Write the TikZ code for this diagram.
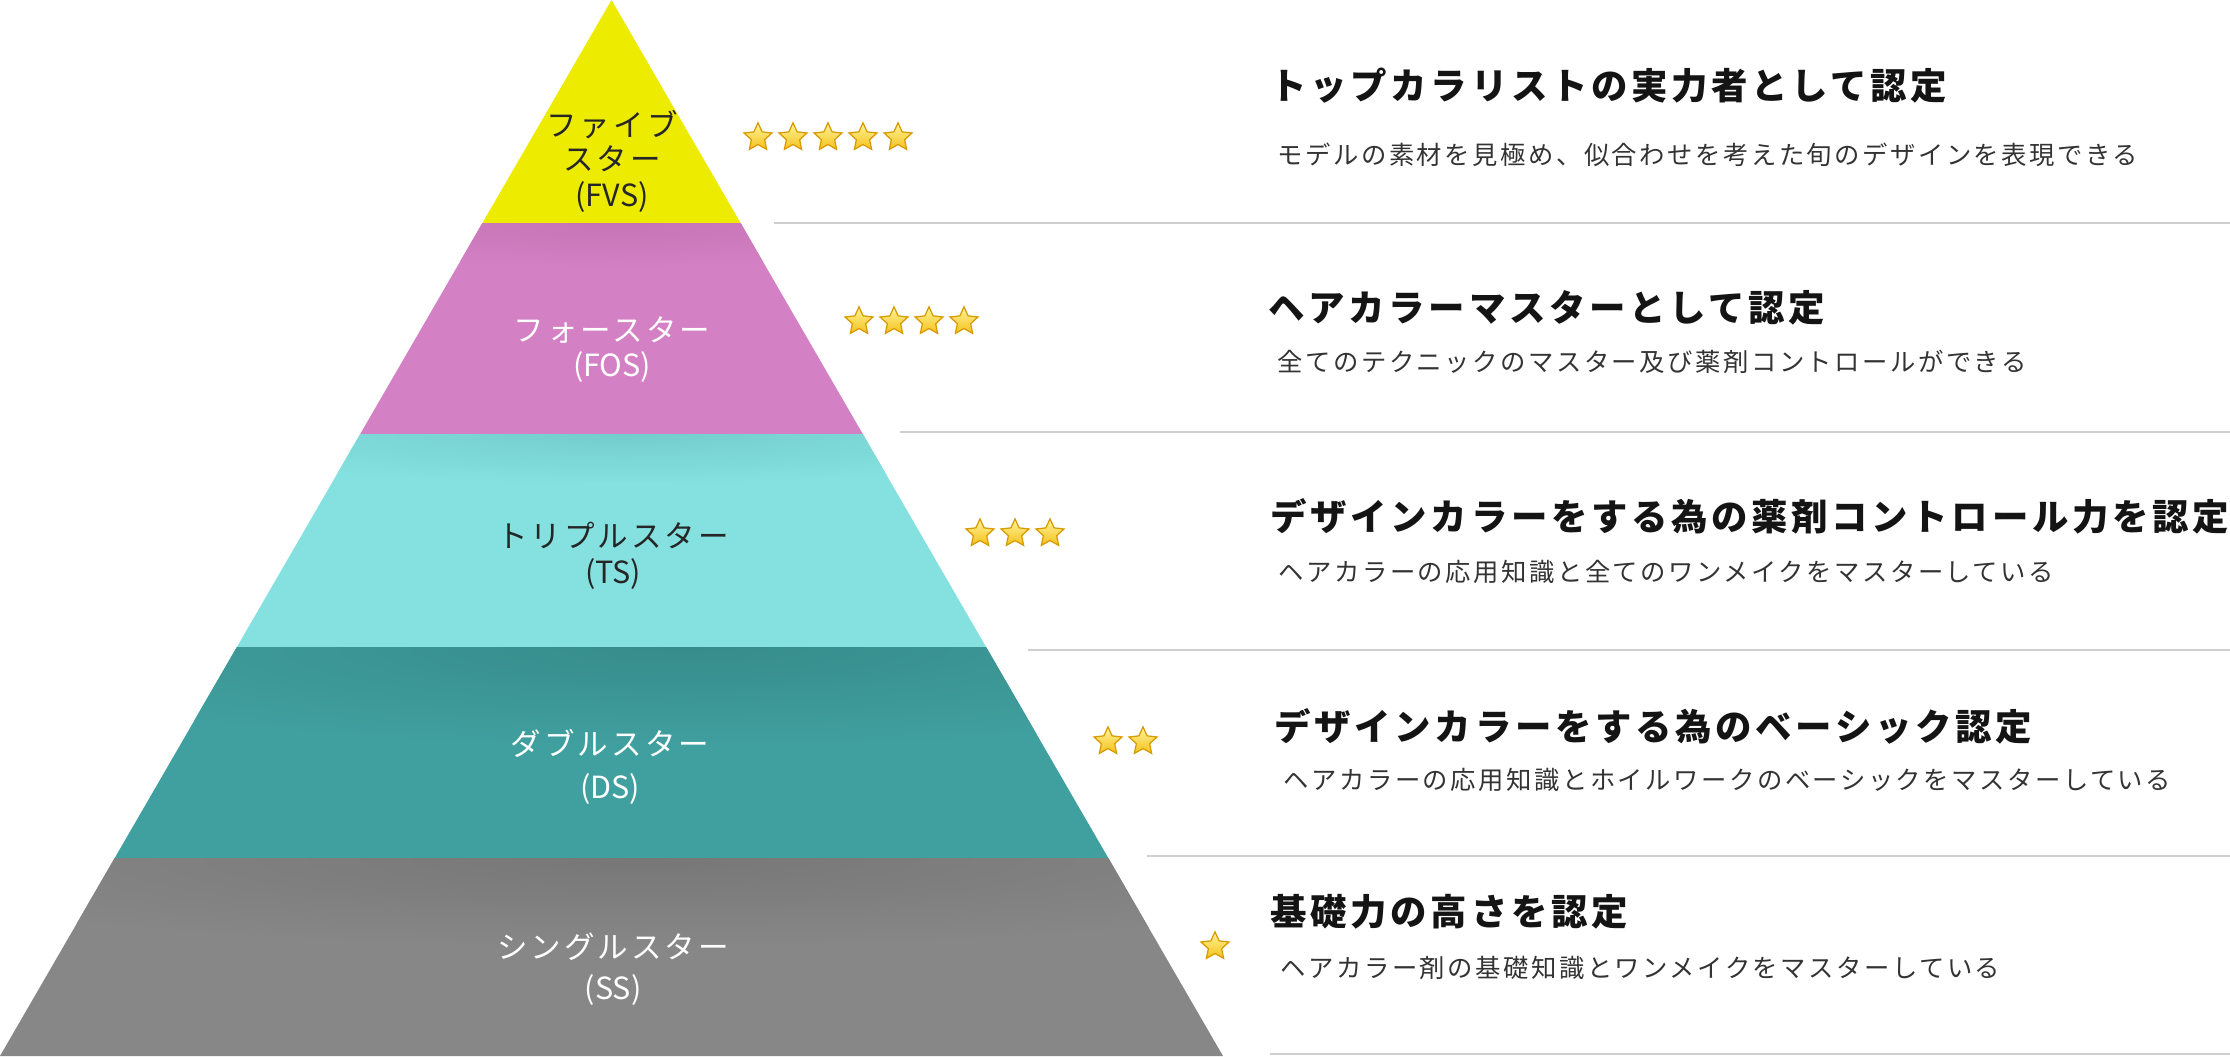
\documentclass[tikz,border=0pt]{standalone}
\usepackage{fontspec}
\setmainfont{Noto Sans CJK JP}
\newfontfamily\jp[LetterSpace=10]{Noto Sans CJK JP}
\newfontfamily\jplat{Noto Sans CJK JP}
\usetikzlibrary{shapes.geometric}
\definecolor{fvscol}{HTML}{EDEB00}
\definecolor{foscol}{HTML}{D480C4}
\definecolor{foshade}{HTML}{C674B6}
\definecolor{tscol}{HTML}{84E1E0}
\definecolor{tsshade}{HTML}{73CDCC}
\definecolor{dscol}{HTML}{40A09F}
\definecolor{dsshade}{HTML}{368C8B}
\definecolor{sscol}{HTML}{878787}
\definecolor{ssshade}{HTML}{777777}
\definecolor{rulecol}{HTML}{CFCFCF}
\definecolor{starlight}{HTML}{FFF39A}
\definecolor{stargold}{HTML}{F4C21B}
\definecolor{staredge}{HTML}{D99A00}
\tikzset{
  lvl/.style={font=\jp\fontsize{8.68}{10}\selectfont, inner sep=0pt},
  abbr/.style={font=\jplat\fontsize{8.68}{10}\selectfont, inner sep=0pt},
  head/.style={anchor=west, font=\jp\bfseries\fontsize{10.36}{12}\selectfont, text=black!92, inner sep=0pt},
  desc/.style={anchor=west, font=\jp\fontsize{7.2}{9}\selectfont, text=black!80, inner sep=0pt},
  sep/.style={draw=rulecol, line width=0.6pt},
  goldstar/.style={star, star points=5, star point ratio=2.1, minimum size=0.294cm, inner sep=0pt,
    draw=staredge, line width=0.35pt, top color=starlight, bottom color=stargold}
}

\begin{document}
\begin{tikzpicture}[x=0.01cm,y=-0.01cm]
\useasboundingbox (0,0) rectangle (2230,1056);
\fill[fvscol] (611.5,0) -- (740.6,223) -- (482.4,223) -- cycle;
\fill[foscol] (482.4,223) -- (740.6,223) -- (862.8,434) -- (360.2,434) -- cycle;
\fill[tscol] (360.2,434) -- (862.8,434) -- (986.1,647) -- (236.9,647) -- cycle;
\fill[dscol] (236.9,647) -- (986.1,647) -- (1108.3,858) -- (114.7,858) -- cycle;
\fill[sscol] (114.7,858) -- (1108.3,858) -- (1223,1056) -- (0,1056) -- cycle;
\begin{scope}
\clip (482.4,223) -- (740.6,223) -- (862.8,434) -- (360.2,434) -- cycle;
\shade[inner color=foshade, outer color=foscol] (615,223) ellipse (340 and 44);
\end{scope}
\begin{scope}
\clip (360.2,434) -- (862.8,434) -- (986.1,647) -- (236.9,647) -- cycle;
\shade[inner color=tsshade, outer color=tscol] (625,434) ellipse (460 and 50);
\end{scope}
\begin{scope}
\clip (236.9,647) -- (986.1,647) -- (1108.3,858) -- (114.7,858) -- cycle;
\shade[inner color=dsshade, outer color=dscol] (680,647) ellipse (720 and 100);
\end{scope}
\begin{scope}
\clip (114.7,858) -- (1108.3,858) -- (1223,1056) -- (0,1056) -- cycle;
\shade[inner color=ssshade, outer color=sscol] (640,858) ellipse (820 and 90);
\end{scope}

\node[lvl, text=black!85] (l1a) at (612,125) {ファイブ};
\node[lvl, text=black!85] (l1b) at (612,159) {スター};
\node[abbr, text=black!85] (l1c) at (612,197) {(FVS)};
\node[lvl, text=white] (l2a) at (612,330) {フォースター};
\node[abbr, text=white] (l2b) at (612,367) {(FOS)};
\node[lvl, text=black!85] (l3a) at (613,535) {トリプルスター};
\node[abbr, text=black!85] (l3b) at (613,574) {(TS)};
\node[lvl, text=white] (l4a) at (610,743) {ダブルスター};
\node[abbr, text=white] (l4b) at (610,789) {(DS)};
\node[lvl, text=white] (l5a) at (613,947) {シングルスター};
\node[abbr, text=white] (l5b) at (613,990) {(SS)};

\node[goldstar] (s1a) at (758,137.5) {};
\node[goldstar] (s1b) at (793,137.5) {};
\node[goldstar] (s1c) at (828,137.5) {};
\node[goldstar] (s1d) at (863,137.5) {};
\node[goldstar] (s1e) at (898,137.5) {};
\node[goldstar] (s2a) at (859,321.5) {};
\node[goldstar] (s2b) at (894,321.5) {};
\node[goldstar] (s2c) at (929,321.5) {};
\node[goldstar] (s2d) at (964,321.5) {};
\node[goldstar] (s3a) at (980,533.5) {};
\node[goldstar] (s3b) at (1015,533.5) {};
\node[goldstar] (s3c) at (1050,533.5) {};
\node[goldstar] (s4a) at (1108,741.5) {};
\node[goldstar] (s4b) at (1143,741.5) {};
\node[goldstar] (s5a) at (1215,946.5) {};

\node[head] (h1) at (1270,86) {トップカラリストの実力者として認定};
\node[desc] (d1) at (1277,155) {モデルの素材を見極め、似合わせを考えた旬のデザインを表現できる};
\node[head] (h2) at (1268,308) {ヘアカラーマスターとして認定};
\node[desc] (d2) at (1277,362) {全てのテクニックのマスター及び薬剤コントロールができる};
\node[head] (h3) at (1270,516) {デザインカラーをする為の薬剤コントロール力を認定};
\node[desc] (d3) at (1278,572) {ヘアカラーの応用知識と全てのワンメイクをマスターしている};
\node[head] (h4) at (1274,726) {デザインカラーをする為のベーシック認定};
\node[desc] (d4) at (1283,780) {ヘアカラーの応用知識とホイルワークのベーシックをマスターしている};
\node[head] (h5) at (1270,912) {基礎力の高さを認定};
\node[desc] (d5) at (1280,968) {ヘアカラー剤の基礎知識とワンメイクをマスターしている};

\draw[sep] (774,223) -- (2230,223);
\draw[sep] (900,432) -- (2230,432);
\draw[sep] (1028,650) -- (2230,650);
\draw[sep] (1147,856) -- (2230,856);
\draw[sep] (1270,1054) -- (2230,1054);
\end{tikzpicture}
\end{document}
